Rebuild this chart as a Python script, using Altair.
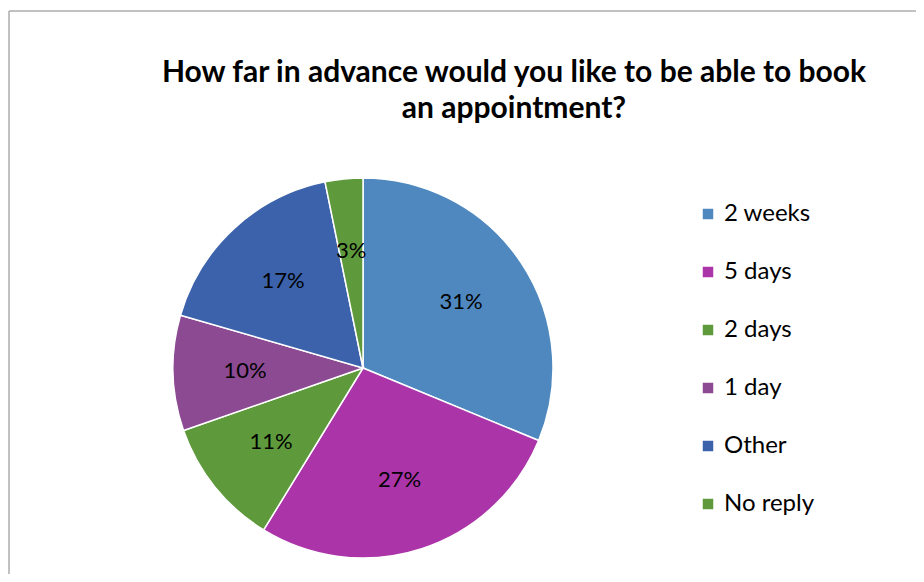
import altair as alt
import pandas as pd

categories = ["2 weeks", "5 days", "2 days", "1 day", "Other", "No reply"]
values = [31.2, 27.5, 10.9, 9.8, 17.3, 3.2]
labels = ["31%", "27%", "11%", "10%", "17%", "3%"]
colors = ["#4F88BF", "#AB35A8", "#5E9A3C", "#8C4A93", "#3C62AB", "#5E9A3C"]
title_lines = ["How far in advance would you like to be able to book", "an appointment?"]

df = pd.DataFrame({"category": categories, "value": values, "label": labels, "order": list(range(len(categories)))})

FONT = "Lato"
W, H = 908, 566
CX, CY = 355, 360
R = 190

base = alt.Chart(df).encode(
    theta=alt.Theta("value:Q", stack=True),
    order=alt.Order("order:Q"),
)

pie = base.mark_arc(radius=R, stroke="white", strokeWidth=1.5).encode(
    color=alt.Color(
        "category:N",
        scale=alt.Scale(domain=categories, range=colors),
        sort=categories,
        legend=alt.Legend(
            title=None,
            orient="none",
            legendX=688,
            legendY=194,
            padding=0,
            symbolType="square",
            symbolSize=110,
            symbolStrokeWidth=0,
            labelFontSize=24,
            labelFont=FONT,
            labelColor="black",
            labelOffset=4,
            rowPadding=34,
        ),
    ),
    x=alt.value(CX),
    y=alt.value(CY),
)

text = base.mark_text(radius=118, fontSize=22, font=FONT, color="black").encode(
    text="label:N",
    x=alt.value(CX),
    y=alt.value(CY),
)

frame_df = pd.DataFrame({"k": [0]})
top_rule = alt.Chart(frame_df).mark_rule(color="#ADADAD", strokeWidth=1.5).encode(
    x=alt.value(1), x2=alt.value(W), y=alt.value(3)
)
left_rule = alt.Chart(frame_df).mark_rule(color="#ADADAD", strokeWidth=1.5).encode(
    x=alt.value(1), y=alt.value(3), y2=alt.value(H)
)

chart = alt.layer(top_rule, left_rule, pie, text).properties(
    width=W,
    height=H,
    autosize=alt.AutoSizeParams(type="none"),
    padding=0,
    title=alt.TitleParams(
        text=title_lines,
        font=FONT,
        fontSize=30,
        fontWeight="bold",
        color="black",
        anchor="middle",
        dx=52,
        offset=-116,
        lineHeight=36,
    ),
).configure_view(stroke=None)

chart.save("out.html", embed_options={"renderer": "svg", "actions": False})
